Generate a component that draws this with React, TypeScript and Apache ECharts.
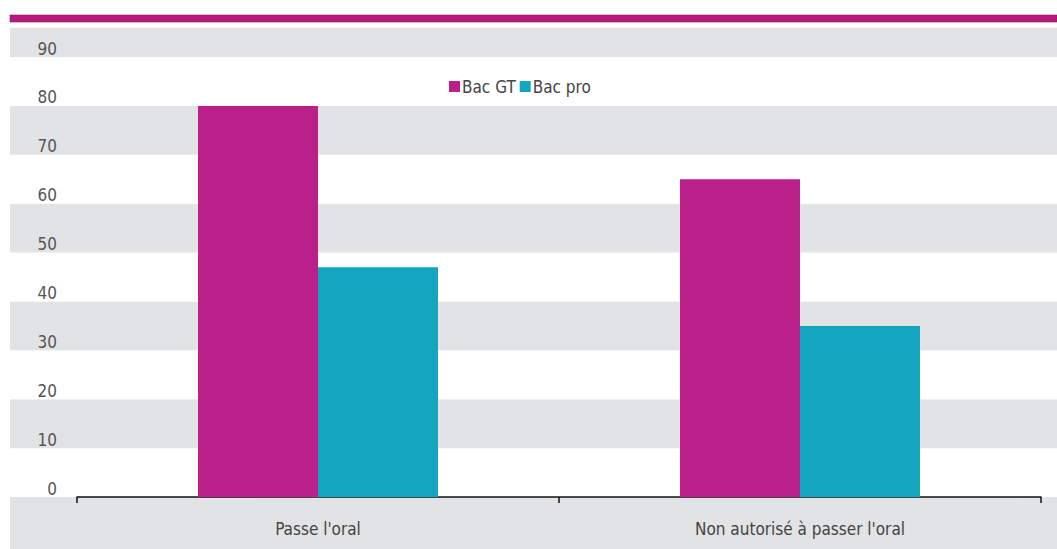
import React, { useEffect, useRef } from "react";
import * as echarts from "echarts";

// Chart data
const categories = ["Passe l'oral", "Non autorisé à passer l'oral"];
const bacGT = [80, 65];
const bacPro = [47, 35];
const seriesNames = ["Bac GT", "Bac pro"];

const MAGENTA = "#ba1f8a";
const CYAN = "#14a6bf";
const BAND = "#e2e3e5";
const FONT = "'Liberation Sans Narrow', 'DejaVu Sans Condensed', 'Roboto', sans-serif";

export default function App() {
  const ref = useRef<HTMLDivElement>(null);

  useEffect(() => {
    if (!ref.current) return;
    const chart = echarts.init(ref.current, undefined, { renderer: "svg" });
    chart.setOption({
      animation: false,
      backgroundColor: "#ffffff",
      textStyle: { fontFamily: FONT },
      legend: {
        data: seriesNames,
        left: 444,
        top: 73,
        icon: "rect",
        itemWidth: 11,
        itemHeight: 11,
        itemGap: 4,
        textStyle: { fontFamily: FONT, fontSize: 17, color: "#444", padding: [0, 0, 0, -3] },
      },
      graphic: [
        {
          type: "rect",
          shape: { x: 10, y: 15, width: 1047, height: 7 },
          style: { fill: "#b8197f", stroke: "#8c1463", lineWidth: 0.6 },
          z: 10,
        },
        // bottom strip of the band below the axis
        {
          type: "rect",
          shape: { x: 10, y: 540, width: 1047, height: 9 },
          style: { fill: BAND },
          z: -1,
        },
      ],
      grid: [
        // background band grid (full width)
        { left: 10, right: 0, top: 27.7, bottom: 3.1 },
        // plot grid
        { left: 77, right: 16, top: 57, bottom: 52 },
      ],
      xAxis: [
        { gridIndex: 0, type: "value", show: false, min: 0, max: 1 },
        {
          gridIndex: 1,
          type: "category",
          data: categories,
          axisLine: { show: true, lineStyle: { color: "#111", width: 1.5 } },
          axisTick: { show: true, inside: false, length: 6, lineStyle: { color: "#111", width: 1.5 } },
          axisLabel: { fontFamily: FONT, fontSize: 17, color: "#444", margin: 23 },
        },
      ],
      yAxis: [
        {
          gridIndex: 0,
          type: "value",
          min: -10,
          max: 96,
          interval: 10,
          axisLine: { show: false },
          axisTick: { show: false },
          axisLabel: { show: false },
          splitLine: { show: false },
          splitArea: { show: true, areaStyle: { color: [BAND, "#ffffff"] } },
        },
        {
          gridIndex: 1,
          type: "value",
          min: 0,
          max: 90,
          interval: 10,
          axisLine: { show: false },
          axisTick: { show: false },
          splitLine: { show: false },
          axisLabel: {
            fontFamily: FONT,
            fontSize: 17,
            color: "#555",
            margin: 20,
            verticalAlign: "bottom",
          },
        },
      ],
      series: [
        {
          name: seriesNames[0],
          type: "bar",
          xAxisIndex: 1,
          yAxisIndex: 1,
          data: bacGT,
          barWidth: 120,
          barGap: "0%",
          itemStyle: { color: MAGENTA },
        },
        {
          name: seriesNames[1],
          type: "bar",
          xAxisIndex: 1,
          yAxisIndex: 1,
          data: bacPro,
          barWidth: 120,
          barGap: "0%",
          itemStyle: { color: CYAN },
        },
      ],
    });
    return () => chart.dispose();
  }, []);

  return (
    <div
      ref={ref}
      style={{ position: "absolute", left: 0, top: 0, width: 1057, height: 549 }}
    />
  );
}
